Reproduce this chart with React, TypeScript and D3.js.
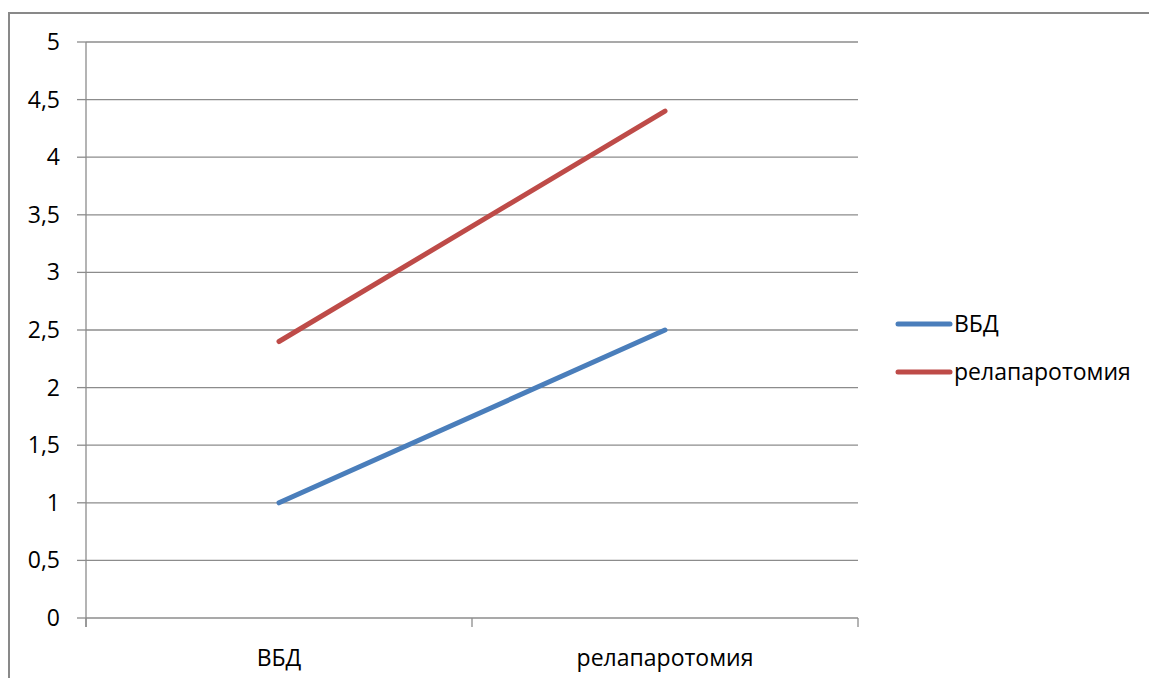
import React from "react";
import * as d3 from "d3";

const categories: string[] = ["ВБД", "релапаротомия"];
const seriesNames: string[] = ["ВБД", "релапаротомия"];
const seriesVBD: number[] = [1, 2.5];
const seriesRelap: number[] = [2.4, 4.4];
const yTicks: number[] = [0, 0.5, 1, 1.5, 2, 2.5, 3, 3.5, 4, 4.5, 5];
const colors: string[] = ["#4A7EBB", "#BE4B48"];

const W = 1149;
const H = 678;
const FONT = "'Open Sans', sans-serif";
const FS = 23;

export default function App() {
  const x = d3.scaleBand<string>().domain(categories).range([86, 858]);
  const y = d3.scaleLinear().domain([0, 5]).range([618, 42]);
  const fmt = (v: number) => String(v).replace(".", ",");
  const line = d3
    .line<number>()
    .x((_, i) => (x(categories[i]) as number) + x.bandwidth() / 2)
    .y((d) => y(d));
  const series = [seriesVBD, seriesRelap];
  const xTickPositions = [...categories.map((c) => x(c) as number), 858];

  return (
    <svg
      width={W}
      height={H}
      style={{ position: "fixed", left: 0, top: 0, background: "#fff" }}
      fontFamily={FONT}
    >
      <rect x={9} y={13} width={1160} height={700} fill="#fff" stroke="#898989" strokeWidth={2} />
      {yTicks.map((t) => (
        <g key={t}>
          {t > 0 && (
            <line x1={86} x2={858} y1={y(t)} y2={y(t)} stroke="#8C8C8C" strokeWidth={1.3} />
          )}
          <line x1={77} x2={86} y1={y(t)} y2={y(t)} stroke="#8C8C8C" strokeWidth={1.3} />
          <text x={60} y={y(t)} dy="0.35em" textAnchor="end" fontSize={FS} fill="#000">
            {fmt(t)}
          </text>
        </g>
      ))}
      <line x1={86} x2={86} y1={42} y2={627} stroke="#8C8C8C" strokeWidth={1.3} />
      <line x1={86} x2={858} y1={618} y2={618} stroke="#8C8C8C" strokeWidth={1.3} />
      {xTickPositions.map((px, i) => (
        <line key={i} x1={px} x2={px} y1={618} y2={627} stroke="#8C8C8C" strokeWidth={1.3} />
      ))}
      {categories.map((c) => (
        <text
          key={c}
          x={(x(c) as number) + x.bandwidth() / 2}
          y={658}
          dy="0.35em"
          textAnchor="middle"
          fontSize={FS}
          fill="#000"
        >
          {c}
        </text>
      ))}
      {series.map((s, i) => (
        <path
          key={i}
          d={line(s) as string}
          fill="none"
          stroke={colors[i]}
          strokeWidth={5}
          strokeLinecap="round"
        />
      ))}
      {seriesNames.map((n, i) => (
        <g key={n} transform={`translate(0, ${324 + i * 48})`}>
          <line x1={898} x2={950} y1={0} y2={0} stroke={colors[i]} strokeWidth={5} strokeLinecap="round" />
          <text x={954} y={0} dy="0.35em" fontSize={FS} fill="#000">
            {n}
          </text>
        </g>
      ))}
    </svg>
  );
}
